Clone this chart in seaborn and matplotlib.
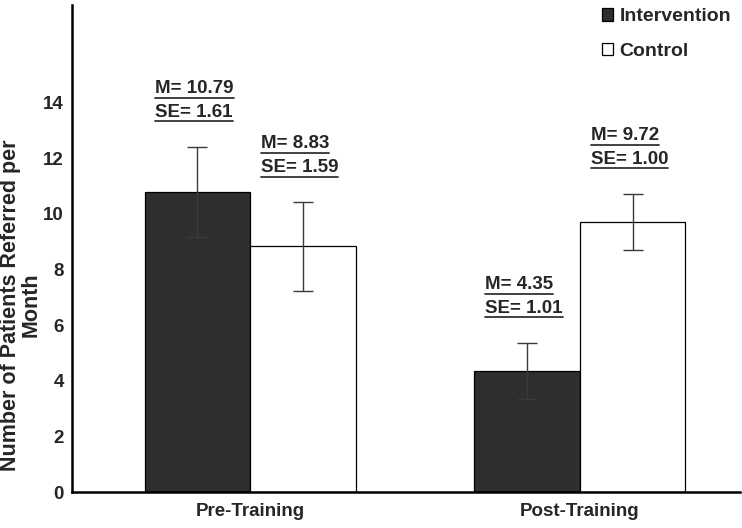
import numpy as np
import pandas as pd
import seaborn as sns
import matplotlib.pyplot as plt

phases = ['Pre-Training', 'Post-Training']
groups = ['Intervention', 'Control']
intervention_mean = [10.79, 4.35]
intervention_se = [1.61, 1.01]
control_mean = [8.83, 9.72]
control_se = [1.59, 1.00]
yticks = [0, 2, 4, 6, 8, 10, 12, 14]

df = pd.DataFrame({
    'phase': phases * 2,
    'group': [groups[0]] * 2 + [groups[1]] * 2,
    'mean': intervention_mean + control_mean,
    'se': intervention_se + control_se,
})

sns.set_style('white')
plt.rcParams['font.family'] = ['Liberation Sans', 'DejaVu Sans']

fig = plt.figure(figsize=(7.42, 5.28), dpi=100)
ax = fig.add_axes([0.097, 0.068, 0.9, 0.922])

sns.barplot(data=df, x='phase', y='mean', hue='group', order=phases,
            hue_order=groups, palette={'Intervention': '#2e2e2e', 'Control': 'white'},
            edgecolor='black', linewidth=0.9, width=0.64, errorbar=None,
            saturation=1, ax=ax)

# error bars + labels on top of each bar
bars = [p for p in ax.patches if p.get_height() > 0]
bars = sorted(bars, key=lambda p: p.get_x())
order = [(0, 'Intervention'), (0, 'Control'), (1, 'Intervention'), (1, 'Control')]
labels = []
for bar, (i, g) in zip(bars, order):
    row = df[(df.phase == phases[i]) & (df.group == g)].iloc[0]
    xc = bar.get_x() + bar.get_width() / 2
    ax.errorbar(xc, row['mean'], yerr=row['se'], color='#3a3a3a',
                elinewidth=1.0, capsize=7, capthick=1.0)
    top = row['mean'] + row['se']
    xl = bar.get_x() + 0.033
    t1 = ax.text(xl, top + 2.1, f"M= {row['mean']:.2f}", fontsize=13.5,
                 fontweight='bold', ha='left', va='center')
    t2 = ax.text(xl, top + 1.25, f"SE= {row['se']:.2f}", fontsize=13.5,
                 fontweight='bold', ha='left', va='center')
    labels += [t1, t2]

ax.set_ylim(0, 17.5)
ax.set_xlim(-0.54, 1.485)
ax.set_yticks(yticks)
ax.tick_params(axis='y', labelsize=13.5, length=3, width=1, color='black',
               direction='out', pad=3)
for t in ax.get_yticklabels():
    t.set_fontweight('bold')
ax.tick_params(axis='x', labelsize=13.5, length=0, pad=8)
for t in ax.get_xticklabels():
    t.set_fontweight('bold')
ax.set_xlabel('')
ax.set_ylabel('Number of Patients Referred per\nMonth', fontsize=15.5,
              fontweight='bold', linespacing=0.95)
ax.yaxis.set_label_coords(-0.046, 0.384)

for s in ['top', 'right']:
    ax.spines[s].set_visible(False)
for s in ['left', 'bottom']:
    ax.spines[s].set_color('black')
    ax.spines[s].set_linewidth(1.8)

# underline the annotation text
fig.canvas.draw()
r = fig.canvas.get_renderer()
inv = ax.transData.inverted()
for t in labels:
    bb = t.get_window_extent(r)
    (x0, y0), (x1, y1) = inv.transform([[bb.x0, bb.y0], [bb.x1, bb.y1]])
    ax.plot([x0, x1], [y0 - 0.02, y0 - 0.02], color='#333333', lw=1.3, clip_on=False)

leg = ax.legend(loc='upper right', bbox_to_anchor=(1.013, 1.03), frameon=False,
                prop={'size': 14, 'weight': 'bold'}, handlelength=0.6,
                handleheight=0.6, handletextpad=0.3, labelspacing=0.9)
for h in leg.legend_handles:
    h.set_edgecolor('black')
    h.set_linewidth(0.9)

fig.savefig('out.png', dpi=100, facecolor='white')
